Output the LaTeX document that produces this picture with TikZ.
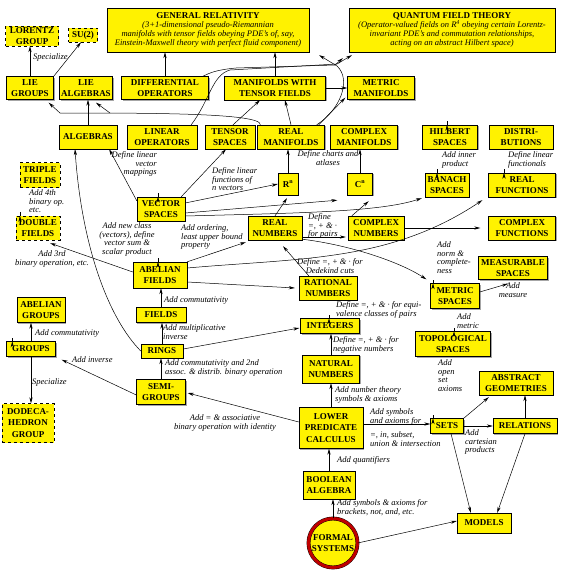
\documentclass[tikz,border=0pt]{standalone}
\usepackage{fontspec}
\setmainfont{Liberation Serif}
\usetikzlibrary{arrows.meta, calc, shadows}
\newcommand\bxfont{\fontsize{9}{11.5}\selectfont\bfseries\upshape}
\newcommand\lbfont{\fontsize{8.5}{8.9}\selectfont\itshape}

\begin{document}
\begin{tikzpicture}[x=1pt, y=-1pt,
	box/.style={draw, fill=yellow, font=\bxfont, align=center, inner sep=1pt,
		drop shadow={shadow xshift=1pt, shadow yshift=-1pt, opacity=0.7}},
	dbox/.style={draw, dashed, fill=yellow, font=\bxfont, align=center, inner sep=0pt},
	lbl/.style={font=\lbfont, align=left, inner sep=0pt},
	arr/.style={-{Stealth[length=6pt, width=3.2pt]}, line width=0.5pt}]
	\useasboundingbox (0,0) rectangle (561,576);

	% top row
	\node[dbox, minimum width=53, minimum height=20] (lorentz) at (32,36) {LORENTZ\\GROUP};
	\node[dbox, minimum width=29, minimum height=14] (sutwo) at (83,35) {SU(2)};
	\node[box, font=\lbfont, minimum width=202, minimum height=44] (gr) at (208,30)
		{{\bxfont GENERAL RELATIVITY}\\(3+1-dimensional pseudo-Riemannian\\
		manifolds with tensor fields obeying PDE's of, say,\\
		Einstein-Maxwell theory with perfect fluid component)};
	\node[box, font=\lbfont, minimum width=206, minimum height=44] (qft) at (452,30)
		{{\bxfont QUANTUM FIELD THEORY}\\(Operator-valued fields on R\textsuperscript{4} obeying certain Lorentz-\\
		invariant PDE's and commutation relationships,\\
		acting on an abstract Hilbert space)};

	\node[box, minimum width=47, minimum height=23] (liegr) at (30,88) {LIE\\GROUPS};
	\node[box, minimum width=53, minimum height=23] (liealg) at (86,88) {LIE\\ALGEBRAS};
	\node[box, minimum width=87, minimum height=23] (diffop) at (165,88) {DIFFERENTIAL\\OPERATORS};
	\node[box, minimum width=101, minimum height=24] (mantf) at (275,88) {MANIFOLDS WITH\\TENSOR FIELDS};
	\node[box, minimum width=67, minimum height=23] (metman) at (381,88) {METRIC\\MANIFOLDS};

	\node[box, minimum width=58, minimum height=24] (alg) at (88,137) {ALGEBRAS};
	\node[box, minimum width=70, minimum height=24] (linop) at (162,137) {LINEAR\\OPERATORS};
	\node[box, minimum width=50, minimum height=24] (tensp) at (230,137) {TENSOR\\SPACES};
	\node[box, minimum width=67, minimum height=24] (realman) at (291,137) {REAL\\MANIFOLDS};
	\node[box, minimum width=67, minimum height=24] (cplxman) at (364,137) {COMPLEX\\MANIFOLDS};
	\node[box, minimum width=55, minimum height=24] (hilb) at (450,137) {HILBERT\\SPACES};
	\node[box, minimum width=64, minimum height=24] (distr) at (521,137) {DISTRI-\\BUTIONS};

	% middle
	\node[dbox, minimum width=40, minimum height=25] (triple) at (40,175) {TRIPLE\\FIELDS};
	\node[box, minimum width=20, minimum height=22] (rn) at (288,184) {R\textsuperscript{n}};
	\node[box, minimum width=25, minimum height=22] (cn) at (360,184) {C\textsuperscript{n}};
	\node[box, minimum width=44, minimum height=24] (banach) at (447,185) {BANACH\\SPACES};
	\node[box, minimum width=67, minimum height=24] (realfn) at (522,185) {REAL\\FUNCTIONS};
	\node[box, minimum width=48, minimum height=24] (vecsp) at (161,209) {VECTOR\\SPACES};
	\node[dbox, minimum width=44, minimum height=24] (double) at (38,228) {DOUBLE\\FIELDS};
	\node[box, minimum width=54, minimum height=24] (realnum) at (275,228) {REAL\\NUMBERS};
	\node[box, minimum width=56, minimum height=24] (cplxnum) at (376,228) {COMPLEX\\NUMBERS};
	\node[box, minimum width=67, minimum height=24] (cplxfn) at (522,228) {COMPLEX\\FUNCTIONS};
	\node[box, minimum width=54, minimum height=26] (abfld) at (160,275) {ABELIAN\\FIELDS};
	\node[box, minimum width=69, minimum height=23] (measp) at (513,268) {MEASURABLE\\SPACES};
	\node[box, minimum width=58, minimum height=24] (ratnum) at (328,288) {RATIONAL\\NUMBERS};
	\node[box, minimum width=49, minimum height=25] (metsp) at (455,296) {METRIC\\SPACES};
	\node[box, minimum width=48, minimum height=25] (abgr) at (41,310) {ABELIAN\\GROUPS};
	\node[box, minimum width=50, minimum height=15] (fields) at (161,315) {FIELDS};
	\node[box, minimum width=59, minimum height=15] (integ) at (330,326) {INTEGERS};
	\node[box, minimum width=49, minimum height=15] (groups) at (31,349) {GROUPS};
	\node[box, minimum width=42, minimum height=14] (rings) at (162,351) {RINGS};
	\node[box, minimum width=75, minimum height=25] (topsp) at (453,344) {TOPOLOGICAL\\SPACES};
	\node[box, minimum width=57, minimum height=28] (natnum) at (331,369) {NATURAL\\NUMBERS};
	\node[box, minimum width=49, minimum height=25] (semigr) at (161,392) {SEMI-\\GROUPS};
	\node[box, minimum width=74, minimum height=24] (absgeo) at (516,383) {ABSTRACT\\GEOMETRIES};

	% bottom
	\node[dbox, minimum width=52, minimum height=39] (dodeca) at (28,423) {DODECA-\\HEDRON\\GROUP};
	\node[box, minimum width=64, minimum height=41] (lpc) at (331,428) {LOWER\\PREDICATE\\CALCULUS};
	\node[box, minimum width=33, minimum height=15] (sets) at (447,426) {SETS};
	\node[box, minimum width=64, minimum height=15] (rel) at (525,426) {RELATIONS};
	\node[box, minimum width=52, minimum height=28] (bool) at (329,485) {BOOLEAN\\ALGEBRA};
	\node[circle, draw, double=red!75!black, double distance=3pt, fill=yellow,
		font=\bxfont, align=center, inner sep=0pt, minimum size=49] (formal) at (333,543) {FORMAL\\SYSTEMS};
	\node[box, minimum width=54, minimum height=20] (models) at (484,523) {MODELS};

	% connectors, top part
	\draw[arr] (liegr.north) -- (liegr.north |- lorentz.south);
	\draw[arr] (liegr.north east) -- ($(sutwo.south)+(-2,0)$);
	\draw[arr] (diffop.north) -- (diffop.north |- gr.south);
	\draw[arr] (mantf.north) -- (mantf.north |- gr.south);
	\draw[arr] (mantf.east) -- (metman.west);
	\draw[arr] (alg.north) -- (alg.north |- liealg.south);
	\draw[arr] ($(tensp.north)+(3,0)$) -- ($(mantf.south)+(-15,0)$);
	\draw[arr] (realman.north) -- ($(mantf.south)+(10,0)$);
	\draw[arr] ($(realman.north east)+(-6,0)$) -- ($(metman.south west)+(-2,-2)$);
	\draw[arr] ($(linop.north east)+(-6,0)$) .. controls (210,100) and (212,75)
		.. (230,70) -- (337,64) -- ($(qft.south west)+(3,3)$);
	\draw[arr] ($(diffop.north east)+(-6,0)$) .. controls (210,73) and (215,70)
		.. (236,68) -- (335,65) -- ($(qft.south west)+(-6,6)$);
	\draw[arr] ($(realman.north east)+(-8,0)$) .. controls (340,110) and (352,80)
		.. (337,66) -- ($(gr.south east)+(10,3)$);
	\draw[arr] ($(realman.north west)+(3,0)$) .. controls (262,113) and (150,113)
		.. (60,113) -- ($(liegr.south east)+(-5,3)$);
	\draw[arr] (110,113) -- ($(liealg.south)+(10,3)$);
	\draw[arr] ($(hilb.north)+(-3,0)$) -- ($(hilb.north)+(-3,0)$ |- qft.south);
	\draw[arr] ($(banach.north)+(-10,0)$) -- ($(banach.north)+(-10,0)$ |- hilb.south);
	\draw[arr] ($(realfn.north)+(-18,0)$) -- ($(realfn.north)+(-18,0)$ |- distr.south);
	\draw[arr] (rn.north) -- (rn.north |- realman.south);
	\draw[arr] (cn.north) -- (cn.north |- cplxman.south);

	% connectors, middle part
	\draw[arr] ($(vecsp.north)+(-3,0)$) -- ($(vecsp.north)+(-3,0)$ |- linop.south);
	\draw[arr] ($(vecsp.north west)+(0,4)$) -- ($(alg.south east)+(-8,0)$);
	\draw[arr] ($(vecsp.north east)+(-4,0)$) -- ($(tensp.south)+(-4,0)$);
	\draw[arr] ($(vecsp.east)+(0,-6)$) -- (rn.west);
	\draw[arr] ($(vecsp.east)+(0,4)$) -- ($(cn.south west)+(-10,5)$);
	\draw[arr] ($(vecsp.east)+(0,7)$) .. controls (300,213) and (380,212) .. ($(banach.south west)+(-3,1)$);
	\draw[arr] ($(abfld.north)+(-2,0)$) -- ($(abfld.north)+(-2,0)$ |- vecsp.south);
	\draw[arr] ($(abfld.west)+(0,-3)$) -- ($(double.south east)+(-10,3)$);
	\draw[arr] ($(double.north)+(-18,0)$) -- ($(double.north)+(-18,0)$ |- triple.south);
	\draw[arr] (abfld.north east) -- ($(realnum.south west)+(-2,2)$);
	\draw[arr] ($(abfld.east)+(0,7)$) -- ($(ratnum.west)+(-4,0)$);
	\draw[arr] ($(abfld.east)+(0,-7)$) .. controls (300,258) and (390,262)
		.. ($(realfn.south west)+(-6,3)$);
	\draw[arr] ($(ratnum.north west)+(10,0)$) -- ($(realnum.south)+(8,6)$);
	\draw[arr] ($(realnum.east)+(0,9)$) -- ($(cplxnum.west)+(-2,9)$);
	\draw[arr] (realnum.north) -- ($(rn.south)+(-1,3)$);
	\draw[arr] ($(realnum.south east)+(0,-1)$) .. controls (350,245) and (400,262) .. ($(metsp.north west)+(-4,-4)$);
	\draw[arr] ($(cplxnum.north west)+(4,0)$) -- ($(cn.south east)+(-4,6)$);
	\draw[arr] (cplxnum.east) -- ($(cplxfn.west)+(-8,0)$);
	\draw[arr] ($(metsp.north)+(-22,0)$) -- ($(metsp.north)+(-22,0)$ |- banach.south);
	\draw[arr] ($(metsp.east)+(0,-4)$) -- ($(measp.south)+(-5,4)$);
	\draw[arr] (rings.west) .. controls (110,320) and (82,250) .. ($(alg.south)+(-13,0)$);

	% connectors, lower part
	\draw[arr] ($(topsp.north)+(1,0)$) -- ($(topsp.north)+(1,0)$ |- metsp.south);
	\draw[arr] ($(sets.north)+(-14,0)$) -- ($(sets.north)+(-14,0)$ |- topsp.south);
	\draw[arr] (sets.north east) -- ($(absgeo.south west)+(10,2)$);
	\draw[arr] (rel.north) -- (rel.north |- absgeo.south);
	\draw[arr] (sets.east) -- (rel.west);
	\draw[arr] ($(sets.south)+(4,0)$) -- ($(models.north west)+(14,0)$);
	\draw[arr] (rel.south) -- ($(models.north east)+(-14,0)$);
	\draw[arr] ($(lpc.east)+(0,-4)$) -- ($(sets.west)+(0,-2)$);
	\draw[arr] (lpc.north) -- (lpc.north |- natnum.south);
	\draw[arr] ($(lpc.west)+(0,-6)$) -- ($(semigr.east)+(2,1)$);
	\draw[arr] (natnum.north) -- (natnum.north |- integ.south);
	\draw[arr] ($(integ.north)+(-1,0)$) -- ($(integ.north)+(-1,0)$ |- ratnum.south);
	\draw[arr] ($(rings.east)+(0,-2)$) -- ($(integ.west)+(-1,2)$);
	\draw[arr] (rings.north) -- (rings.north |- fields.south);
	\draw[arr] (fields.north) -- (fields.north |- abfld.south);
	\draw[arr] (semigr.north) -- (semigr.north |- rings.south);
	\draw[arr] ($(semigr.west)+(0,3)$) -- ($(groups.south east)+(6,3)$);
	\draw[arr] (groups.north) -- (groups.north |- abgr.south);
	\draw[arr] (groups.south) -- (groups.south |- dodeca.north);
	\draw[arr] ($(groups.north west)+(6,0)$) -- ($(groups.north west)+(6,0)$ |- liegr.south);
	\draw[arr] (bool.north) -- (bool.north |- lpc.south);
	\draw[arr] (formal.north) -- (formal.north |- bool.south);
	\draw[arr] (formal.east) -- ($(models.west)+(0,-2)$);

	% labels
	\node[lbl, anchor=west] (l1) at (33,57) {Specialize};
	\node[lbl, anchor=north west] (l2) at (29,189) {Add 4th\\binary op.\\etc.};
	\node[lbl, anchor=north east, align=right] (l3) at (157,151) {Define linear\\vector\\mappings};
	\node[lbl, anchor=north, align=center] (l4) at (127,222) {Add new class\\(vectors), define\\vector sum \&\\scalar product};
	\node[lbl, anchor=north, align=center] (l5) at (52,250) {Add 3rd\\binary operation, etc.};
	\node[lbl, anchor=north west] (l6) at (212,167) {Define linear\\functions of\\n vectors};
	\node[lbl, anchor=north, align=center] (l7) at (328,150) {Define charts and\\atlases};
	\node[lbl, anchor=north west] (l8) at (308,213) {Define\\=, + \& · \\for pairs};
	\node[lbl, anchor=north west] (l9) at (181,224) {Add ordering,\\least upper bound\\property};
	\node[lbl, anchor=north, align=center] (l10) at (330,258) {Define =, + \& · for\\Dedekind cuts};
	\node[lbl, anchor=north west] (l11) at (442,151) {Add inner\\product};
	\node[lbl, anchor=north west] (l12) at (508,151) {Define linear\\functionals};
	\node[lbl, anchor=north west] (l13) at (437,241) {Add\\norm \&\\complete-\\ness};
	\node[lbl, anchor=north, align=center] (l14) at (513,282) {Add\\measure};
	\node[lbl, anchor=north west] (l15) at (336,301) {Define =, + \& · for equi-\\valence classes of pairs};
	\node[lbl, anchor=north west] (l16) at (333,336) {Define =, + \& · for\\negative numbers};
	\node[lbl, anchor=north west] (l17) at (335,386) {Add number theory\\symbols \& axioms};
	\node[lbl, anchor=west] (l18) at (164,300) {Add commutativity};
	\node[lbl, anchor=north west] (l19) at (163,324) {Add multiplicative\\inverse};
	\node[lbl, anchor=north west] (l20) at (165,359) {Add commutativity and 2nd\\assoc. \& distrib. binary operation};
	\node[lbl, anchor=west] (l21) at (35,333) {Add commutativity};
	\node[lbl, anchor=west] (l22) at (72,360) {Add inverse};
	\node[lbl, anchor=west] (l23) at (32,382) {Specialize};
	\node[lbl, anchor=north, align=center] (l24) at (225,414) {Add = \& associative\\binary operation with identity};
	\node[lbl, anchor=north west] (l25) at (370,408) {Add symbols\\and axioms for};
	\node[lbl, anchor=north west] (l26) at (370,431) {=, in, subset,\\union \& intersection};
	\node[lbl, anchor=north west] (l27) at (438,359) {Add\\open\\set\\axioms};
	\node[lbl, anchor=north west] (l28) at (457,313) {Add\\metric};
	\node[lbl, anchor=north west] (l29) at (465,429) {Add\\cartesian\\products};
	\node[lbl, anchor=west] (l30) at (337,460) {Add quantifiers};
	\node[lbl, anchor=north west] (l31) at (337,499) {Add symbols \& axioms for\\brackets, not, and, etc.};
\end{tikzpicture}
\end{document}
